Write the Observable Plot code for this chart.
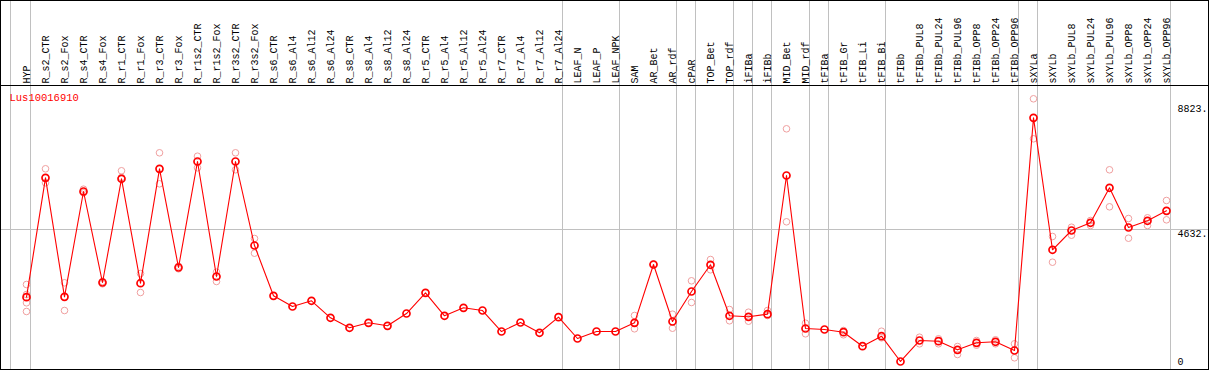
<!DOCTYPE html>
<html><head><meta charset="utf-8">
<script src="https://cdn.jsdelivr.net/npm/d3@7"></script>
<script src="https://cdn.jsdelivr.net/npm/@observablehq/plot@0.6"></script>
<style>
html,body{margin:0;padding:0;background:#fff;}
#chart{width:1207px;height:368px;border:1px solid #000;}
#chart svg{display:block;}
</style></head><body><div id="chart"></div>
<script>
const geneName = "Lus10016910";
const categories = ["HYP","R_s2_CTR","R_s2_Fox","R_s4_CTR","R_s4_Fox","R_r1_CTR","R_r1_Fox","R_r3_CTR","R_r3_Fox","R_r1s2_CTR","R_r1s2_Fox","R_r3s2_CTR","R_r3s2_Fox","R_s6_CTR","R_s6_Al4","R_s6_Al12","R_s6_Al24","R_s8_CTR","R_s8_Al4","R_s8_Al12","R_s8_Al24","R_r5_CTR","R_r5_Al4","R_r5_Al12","R_r5_Al24","R_r7_CTR","R_r7_Al4","R_r7_Al12","R_r7_Al24","LEAF_N","LEAF_P","LEAF_NPK","SAM","AR_Bet","AR_rdf","cPAR","TOP_Bet","TOP_rdf","iFIBa","iFIBb","MID_Bet","MID_rdf","tFIBa","tFIB_Gr","tFIB_Li","tFIB_Bi","tFIBb","tFIBb_PUL8","tFIBb_PUL24","tFIBb_PUL96","tFIBb_OPP8","tFIBb_OPP24","tFIBb_OPP96","sXYLa","sXYLb","sXYLb_PUL8","sXYLb_PUL24","sXYLb_PUL96","sXYLb_OPP8","sXYLb_OPP24","sXYLb_OPP96"];
const means = [2353,6372,2366,5911,2848,6339,2824,6675,3353,6921,3050,6921,4093,2400,2040,2232,1660,1323,1491,1390,1804,2501,1727,1996,1905,1198,1501,1155,1680,963,1198,1198,1491,3454,1535,2545,3444,1727,1693,1781,6450,1299,1266,1175,704,1040,189,895,872,582,818,852,559,8392,3949,4598,4858,6036,4699,4925,5261];
const replicates = [
  [2781,2444,2164,1872],[6676,6205],[2838,1905],[5989,5867],[2804,2882],[6609,6383],[3151,2511],[7214,6170],[3397,3309],[7099,6709],[3195,2882],[7214,6642],[4329,3834],
  [],[],[],[],[],[],[],[],[],[],[],[],[],[],[],[],[],[],[],
  [1737,1289],[3440,3468],[1781,1309],[2905,2175],[3622,3275],[1939,1559],[1848,1545],[1905,1737],[8022,4891],[1478,1121],[],[1232,1087],[],[1208,986],[],
  [1006,784],[953,784],[693,424],[737,895],[784,919],[784,313],
  [9032,7685],[4396,3531],[4709,4440],[4935,4767],[6642,5396],[5002,4339],[5026,4767],[5608,4958]
];
const groupEnds = ["HYP","R_r7_Al24","LEAF_NPK","AR_rdf","cPAR","TOP_rdf","iFIBa","iFIBb","MID_rdf","tFIBa","tFIB_Bi","tFIBb_OPP96","sXYLa","sXYLb_OPP96"];
const yTicks = [4632, 8823];
const yGrid = [4632];
const yBottomLabel = "0";

const meanData = categories.map((c, i) => ({cat: c, value: means[i]}));
const repData = categories.flatMap((c, i) => replicates[i].map(v => ({cat: c, value: v})));
const mono = "Liberation Mono, DejaVu Sans Mono, monospace";
const grid = "#c0c0c0";

const chart = Plot.plot({
  width: 1207, height: 368,
  marginTop: 84, marginBottom: 0, marginLeft: 0, marginRight: 0,
  style: {fontFamily: mono, fontSize: "10px", background: "#fff", color: "#000"},
  x: {type: "point", domain: categories, range: [25, 1165], padding: 0, label: null},
  y: {domain: [0, 8823], range: [365.6, 103.5], axis: null},
  marks: [
    Plot.ruleX(groupEnds, {x: d => d, dx: 4, stroke: grid, insetTop: -84}),
    Plot.ruleX([categories[0]], {x: d => d, dx: -16, stroke: grid, insetTop: -84}),
    Plot.ruleY(yGrid, {y: d => d, stroke: grid}),
    Plot.frame({anchor: "top", stroke: "#000"}),
    Plot.axisX({anchor: "top", label: null, tickRotate: -90, tickSize: 0, tickPadding: 2, fontSize: 10, fontFamily: mono, fill: "#000"}),
    Plot.text(yTicks, {y: d => d, text: d => d + ".", frameAnchor: "right", dx: -31, dy: 4, textAnchor: "start", lineAnchor: "middle", fontSize: 10, fill: "#000"}),
    Plot.text([yBottomLabel], {text: d => d, frameAnchor: "bottom-right", dx: -31, dy: -7.3, textAnchor: "start", lineAnchor: "middle", fontSize: 10, fill: "#000"}),
    Plot.text([geneName], {text: d => d, frameAnchor: "top-left", dx: 8, dy: 12, textAnchor: "start", lineAnchor: "middle", fontSize: 10.5, fill: "red"}),
    Plot.dot(repData, {x: "cat", y: "value", r: 3.3, stroke: "#f0a0a0", strokeWidth: 1, fill: "none"}),
    Plot.line(meanData, {x: "cat", y: "value", stroke: "red", strokeWidth: 1.1}),
    Plot.dot(meanData, {x: "cat", y: "value", r: 3.5, stroke: "red", strokeWidth: 1.7, fill: "none"})
  ]
});
document.getElementById("chart").appendChild(chart);
</script></body></html>
